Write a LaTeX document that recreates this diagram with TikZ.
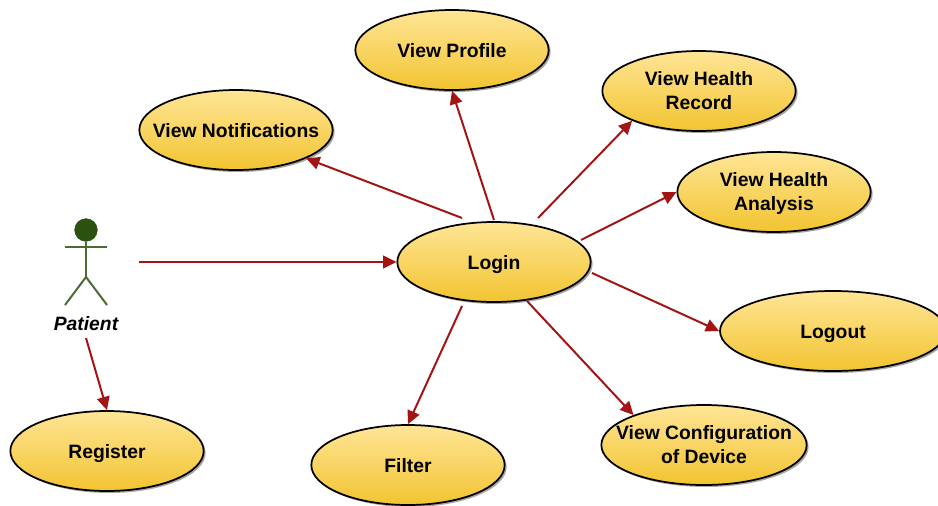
\documentclass[tikz,border=0pt]{standalone}
\usepackage{fontspec}
\setmainfont{Liberation Sans}
\usetikzlibrary{shapes, arrows.meta, positioning, shadows}
\definecolor{arrowred}{HTML}{A31515}
\definecolor{actorgreen}{HTML}{2B5111}
\definecolor{caseTop}{HTML}{FFE596}
\definecolor{caseBottom}{HTML}{F2C431}
\begin{document}
\begin{tikzpicture}
  [
    x=0.75pt, y=-0.75pt,
    >={Triangle[length=10pt,width=9.5pt]},
    UseCase/.style={ellipse, draw=black, line width=1.3pt, top color=caseTop, bottom color=caseBottom,
      minimum width=145pt, minimum height=60pt, inner xsep=-16pt, inner ysep=0pt, align=center,
      text height=11pt, text depth=0pt,
      font=\fontsize{14.5}{18}\selectfont\bfseries,
      drop shadow={shadow xshift=1.5pt, shadow yshift=-1.5pt, opacity=0.35, fill=black}},
    TwoLine/.style={text height=28pt},
    Link/.style={->, draw=arrowred, line width=1.5pt},
    Stick/.style={draw=actorgreen!85!white, line width=1.5pt}
  ]
  \useasboundingbox (0, 0) rectangle (938, 506);
  % Nodes
  \node[UseCase] (login) at(494, 262) {Login};
  \node[UseCase] (profile) at(452, 50) {View Profile};
  \node[UseCase] (notifications) at(236, 130) {View Notifications};
  \node[UseCase, TwoLine] (record) at(699, 91) {View Health\\Record};
  \node[UseCase, TwoLine] (analysis) at(774, 192) {View Health\\Analysis};
  \node[UseCase, minimum width=169.5pt] (logout) at(833, 331) {Logout};
  \node[UseCase, TwoLine, minimum width=154pt] (device) at(704, 445) {View Configuration\\of Device};
  \node[UseCase] (filter) at(408, 465) {Filter};
  \node[UseCase] (register) at(107, 451) {Register};
  % Actor
  \node[circle, fill=actorgreen, draw=actorgreen, minimum size=17pt, inner sep=0pt] (head) at(86, 230) {};
  \node[font=\fontsize{14.5}{18}\selectfont\bfseries\itshape] (patient) at(86, 324) {Patient};
  \coordinate (hip) at(86, 277);
  \coordinate (handL) at(65, 247);
  \coordinate (handR) at(107, 247);
  \coordinate (footL) at(65, 305);
  \coordinate (footR) at(107, 305);
  \path [Stick] (head) -- (hip);
  \path [Stick] (handL) -- (handR);
  \path [Stick] (footL) -- (hip) -- (footR);
  % Free ends
  \coordinate (fromActor) at(139, 262);
  \coordinate (fromPatient) at(86, 338);
  \coordinate (outNotifications) at(462, 218);
  \coordinate (outProfile) at(494, 220);
  \coordinate (outRecord) at(538, 218);
  \coordinate (outAnalysis) at(581, 240);
  \coordinate (outLogout) at(592, 273);
  \coordinate (outDevice) at(527, 301);
  \coordinate (outFilter) at(462, 306);
  % Lines
  \path [Link] (fromActor) -- (login.west);
  \path [Link] (fromPatient) -- (register.north);
  \path [Link] (outNotifications) -- (notifications.-22);
  \path [Link] (outProfile) -- (profile.south);
  \path [Link] (outRecord) -- (record.204);
  \path [Link] (outAnalysis) -- (analysis.west);
  \path [Link] (outLogout) -- (logout.west);
  \path [Link] (outDevice) -- (device.157);
  \path [Link] (outFilter) -- (filter.north);
\end{tikzpicture}
\end{document}
